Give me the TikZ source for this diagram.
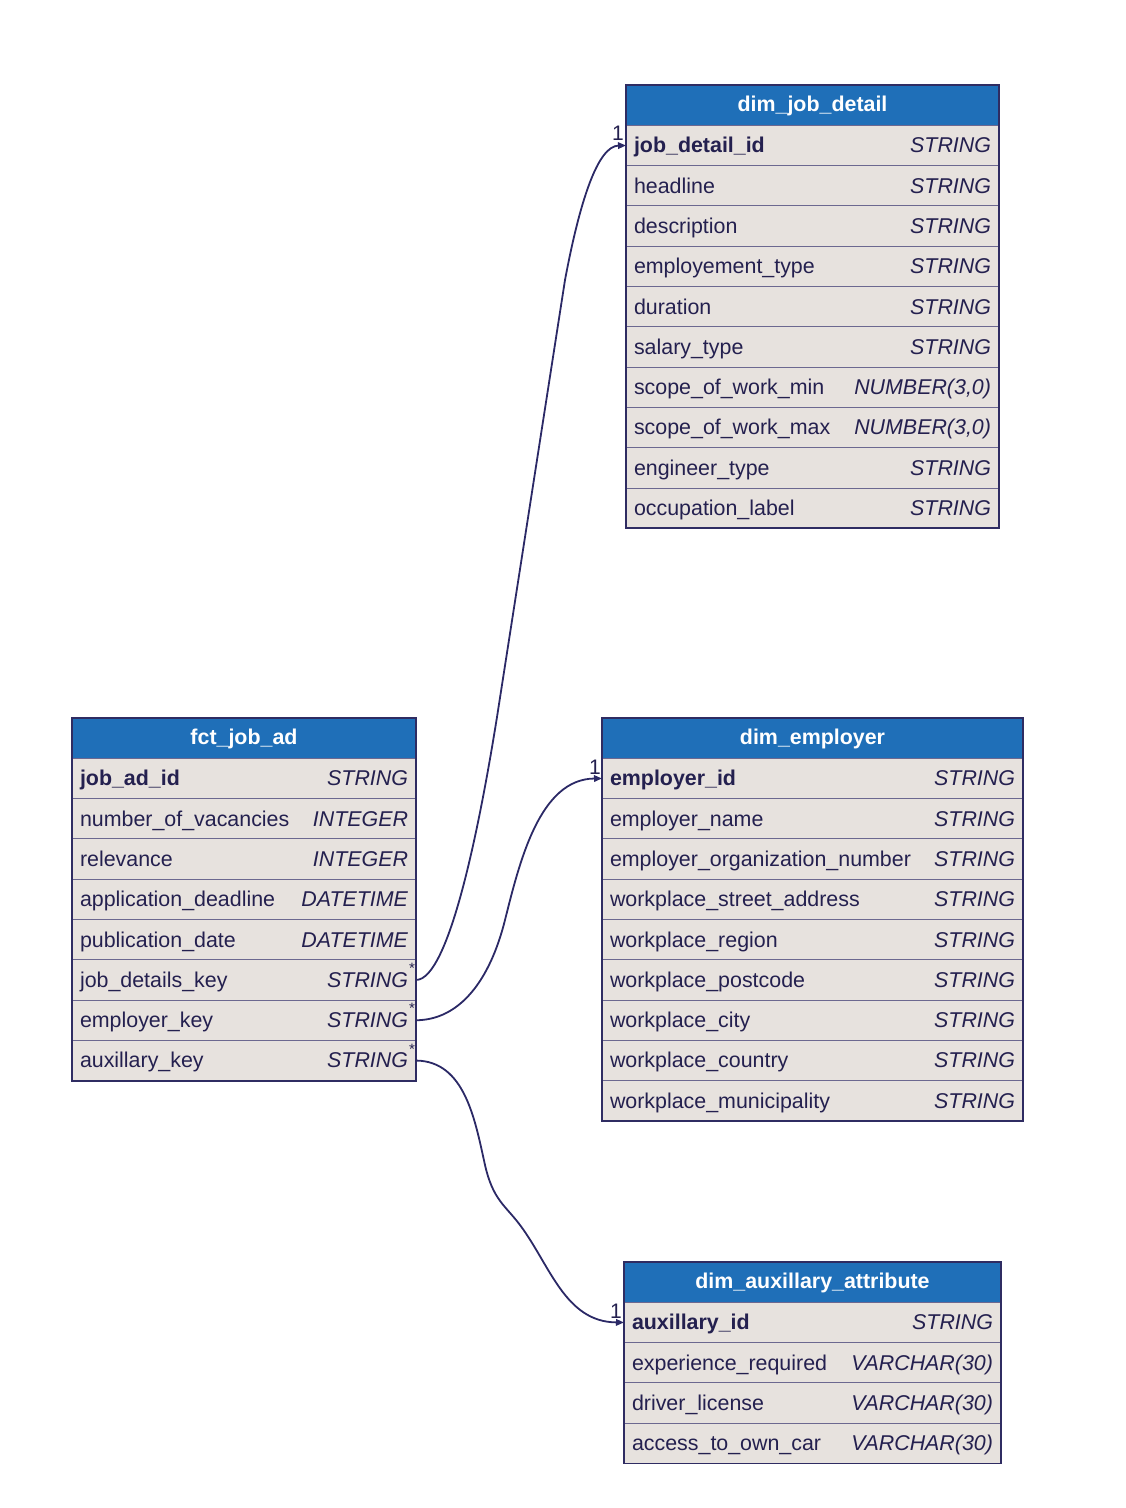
\documentclass[tikz,border=0pt]{standalone}
\usepackage{fontspec}
\setmainfont{Liberation Sans}
\usetikzlibrary{arrows.meta}
\definecolor{headblue}{HTML}{1F6FB8}
\definecolor{rowfill}{HTML}{E7E2DE}
\definecolor{framec}{HTML}{2F2C62}
\definecolor{sepc}{HTML}{6C6890}
\definecolor{txtc}{HTML}{24204F}
\definecolor{edgec}{HTML}{2B2966}
\tikzset{
 rowbox/.style={rectangle, fill=rowfill, draw=sepc, line width=1pt, minimum height=40.3pt, inner sep=0pt, outer sep=0pt},
 headbox/.style={rectangle, fill=headblue, draw=framec, line width=1pt, minimum height=40.3pt, inner sep=0pt, outer sep=0pt},
 cell/.style={inner sep=0pt, outer sep=0pt, text=txtc, font=\fontsize{21.4}{25}\selectfont},
 keycell/.style={cell, font=\fontsize{21.4}{25}\selectfont\bfseries},
 typecell/.style={cell, font=\fontsize{21.4}{25}\selectfont\itshape},
 headtext/.style={inner sep=0pt, text=white, font=\fontsize{21.4}{25}\selectfont\bfseries},
 frame/.style={draw=framec, line width=1.8pt},
 edge/.style={draw=edgec, line width=1.8pt, -{Triangle[length=8pt,width=6.5pt]}},
 onelabel/.style={inner sep=0pt, text=txtc, font=\fontsize{21}{24}\selectfont},
 manylabel/.style={inner sep=0pt, text=txtc, font=\fontsize{15}{17}\selectfont},
}
\newcommand\settbl[3]{\def\tx{#1}\def\ty{#2}\def\tw{#3}}
\newcommand\erdhead[2]{%
 \node[headbox, minimum width=\tw pt, anchor=north west] (#1) at (\tx,\ty) {};
 \node[headtext, anchor=base] (#1-t) at (\tx+\tw/2,\ty+26.5) {#2};}
\newcommand\erdrow[5]{%
 \node[rowbox, minimum width=\tw pt, anchor=north west] (#1) at (\tx,\ty+40.3*#2) {};
 \node[#5, anchor=base west] (#1-l) at (\tx+8,\ty+40.3*#2+27.5) {#3};
 \node[typecell, anchor=base east] (#1-r) at (\tx+\tw-8,\ty+40.3*#2+27.5) {#4};}
\begin{document}
\begin{tikzpicture}[x=1pt,y=-1pt]
\useasboundingbox (0,0) rectangle (1126,1508);
% dim_job_detail
\settbl{626}{85}{373}
\erdhead{jd}{dim\_job\_detail}
\erdrow{jd-1}{1}{job\_detail\_id}{STRING}{keycell}
\erdrow{jd-2}{2}{headline}{STRING}{cell}
\erdrow{jd-3}{3}{description}{STRING}{cell}
\erdrow{jd-4}{4}{employement\_type}{STRING}{cell}
\erdrow{jd-5}{5}{duration}{STRING}{cell}
\erdrow{jd-6}{6}{salary\_type}{STRING}{cell}
\erdrow{jd-7}{7}{scope\_of\_work\_min}{NUMBER(3,0)}{cell}
\erdrow{jd-8}{8}{scope\_of\_work\_max}{NUMBER(3,0)}{cell}
\erdrow{jd-9}{9}{engineer\_type}{STRING}{cell}
\erdrow{jd-10}{10}{occupation\_label}{STRING}{cell}
\draw[frame] (jd.north west) rectangle (jd-10.south east);
% fct_job_ad
\settbl{72}{718}{344}
\erdhead{fa}{fct\_job\_ad}
\erdrow{fa-1}{1}{job\_ad\_id}{STRING}{keycell}
\erdrow{fa-2}{2}{number\_of\_vacancies}{INTEGER}{cell}
\erdrow{fa-3}{3}{relevance}{INTEGER}{cell}
\erdrow{fa-4}{4}{application\_deadline}{DATETIME}{cell}
\erdrow{fa-5}{5}{publication\_date}{DATETIME}{cell}
\erdrow{fa-6}{6}{job\_details\_key}{STRING}{cell}
\erdrow{fa-7}{7}{employer\_key}{STRING}{cell}
\erdrow{fa-8}{8}{auxillary\_key}{STRING}{cell}
\draw[frame] (fa.north west) rectangle (fa-8.south east);
% dim_employer
\settbl{602}{718}{421}
\erdhead{em}{dim\_employer}
\erdrow{em-1}{1}{employer\_id}{STRING}{keycell}
\erdrow{em-2}{2}{employer\_name}{STRING}{cell}
\erdrow{em-3}{3}{employer\_organization\_number}{STRING}{cell}
\erdrow{em-4}{4}{workplace\_street\_address}{STRING}{cell}
\erdrow{em-5}{5}{workplace\_region}{STRING}{cell}
\erdrow{em-6}{6}{workplace\_postcode}{STRING}{cell}
\erdrow{em-7}{7}{workplace\_city}{STRING}{cell}
\erdrow{em-8}{8}{workplace\_country}{STRING}{cell}
\erdrow{em-9}{9}{workplace\_municipality}{STRING}{cell}
\draw[frame] (em.north west) rectangle (em-9.south east);
% dim_auxillary_attribute
\settbl{624}{1262}{377}
\erdhead{ax}{dim\_auxillary\_attribute}
\erdrow{ax-1}{1}{auxillary\_id}{STRING}{keycell}
\erdrow{ax-2}{2}{experience\_required}{VARCHAR(30)}{cell}
\erdrow{ax-3}{3}{driver\_license}{VARCHAR(30)}{cell}
\erdrow{ax-4}{4}{access\_to\_own\_car}{VARCHAR(30)}{cell}
\draw[frame] (ax.north west) rectangle (ax-4.south east);
% connectors
\draw[edge] (fa-6.east) .. controls (450,980) and (481,817) .. (497,717)
  -- (565,280) .. controls (580,200) and (598,146) .. (jd-1.west);
\draw[edge] (fa-7.east) .. controls (460,1020) and (490,980) .. (505,920)
  .. controls (520,860) and (540,779) .. (em-1.west);
\draw[edge] (fa-8.east) .. controls (465,1061) and (475,1120) .. (485,1165)
  .. controls (493,1200) and (505,1205) .. (520,1225)
  .. controls (550,1265) and (565,1322) .. (ax-1.west);
% cardinality labels
\node[manylabel, anchor=base] (m1) at (412,973) {*};
\node[manylabel, anchor=base] (m2) at (412,1013) {*};
\node[manylabel, anchor=base] (m3) at (412,1054) {*};
\node[onelabel, anchor=base east] (o1) at (624,140) {1};
\node[onelabel, anchor=base east] (o2) at (601,774) {1};
\node[onelabel, anchor=base east] (o3) at (622,1318) {1};
\end{tikzpicture}
\end{document}
